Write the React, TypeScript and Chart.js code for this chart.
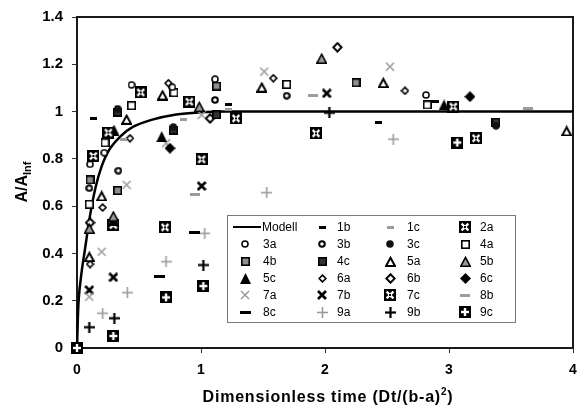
import React, { useEffect, useRef } from 'react';
import { Chart, registerables } from 'chart.js';

Chart.register(...registerables);

const FONT = "'Liberation Sans', Arial, Helvetica, sans-serif";
const BLACK = '#000000';
const GRAY = '#9c9c9c';

// ---------------- data ----------------
const xTicks = [0, 1, 2, 3, 4];
const yTicks = [0, 0.2, 0.4, 0.6, 0.8, 1, 1.2, 1.4];

const modelT = [0, 0.01, 0.03, 0.065, 0.105, 0.15, 0.2, 0.25, 0.35, 0.45, 0.6, 0.8, 1.0, 1.2, 4];
const modelY = [0, 0.17, 0.29, 0.42, 0.56, 0.68, 0.77, 0.83, 0.895, 0.935, 0.965, 0.988, 0.997, 1.0, 1.0];

const s1b = [[0.132, 0.971], [1.22, 1.032], [2.43, 0.953]];
const s1c = [[0.374, 0.88], [0.857, 0.967], [1.22, 1.01]];
const s2a = [[0.132, 0.812], [0.253, 0.911], [0.514, 1.081], [0.906, 1.042], [1.282, 0.971], [3.035, 1.021]];
const s3a = [[0.105, 0.777], [0.22, 0.826], [0.44, 1.113], [0.769, 1.103], [1.113, 1.137], [2.815, 1.07]];
const s3b = [[0.099, 0.676], [0.333, 0.75], [1.113, 1.049], [1.691, 1.067]];
const s3c = [[0.328, 1.012], [0.777, 0.935], [3.379, 0.94]];
const s4a = [[0.099, 0.608], [0.226, 0.868], [0.44, 1.025], [0.782, 1.08], [1.691, 1.115], [2.825, 1.028]];
const s4b = [[0.105, 0.711], [0.328, 0.666], [1.126, 1.108], [2.25, 1.122]];
const s4c = [[0.328, 0.998], [0.777, 0.922], [1.126, 0.986], [3.379, 0.955]];
const s5a = [[0.099, 0.386], [0.199, 0.643], [0.4, 0.967], [0.69, 1.07], [1.49, 1.103], [2.47, 1.122], [3.949, 0.918]];
const s5b = [[0.099, 0.506], [0.293, 0.558], [0.986, 1.021], [1.973, 1.225]];
const s5c = [[0.293, 0.54], [0.298, 0.922], [0.683, 0.894], [2.96, 1.028]];
const s6a = [[0.105, 0.355], [0.207, 0.594], [0.427, 0.887], [0.737, 1.12], [1.583, 1.141], [2.645, 1.088]];
const s6b = [[0.105, 0.53], [1.073, 0.971], [2.1, 1.272]];
const s6c = [[0.75, 0.845], [3.169, 1.063]];
const s7a = [[0.099, 0.217], [0.199, 0.407], [0.4, 0.69], [0.718, 0.866], [1.005, 0.986], [1.51, 1.169], [2.524, 1.19]];
const s7b = [[0.099, 0.245], [0.293, 0.299], [1.005, 0.685], [2.014, 1.077]];
const s7c = [[0.293, 0.52], [0.71, 0.51], [1.005, 0.798], [1.927, 0.908], [3.218, 0.887]];
const s8b = [[0.952, 0.651], [1.906, 1.066], [3.64, 1.014]];
const s8c = [[0.669, 0.302], [0.946, 0.488], [2.873, 1.042]];
const s9a = [[0.207, 0.147], [0.406, 0.234], [0.718, 0.365], [1.03, 0.485], [1.53, 0.657], [2.55, 0.883]];
const s9b = [[0.099, 0.088], [0.301, 0.126], [1.019, 0.351], [2.035, 0.995]];
const s9c = [[0, 0], [0.293, 0.051], [0.718, 0.214], [1.019, 0.262], [3.067, 0.869]];

const seriesLabels = ['1b', '1c', '2a', '3a', '3b', '3c', '4a', '4b', '4c', '5a', '5b', '5c', '6a', '6b', '6c', '7a', '7b', '7c', '8b', '8c', '9a', '9b', '9c'];
const seriesData = [s1b, s1c, s2a, s3a, s3b, s3c, s4a, s4b, s4c, s5a, s5b, s5c, s6a, s6b, s6c, s7a, s7b, s7c, s8b, s8c, s9a, s9b, s9c];

// ---------------- markers ----------------
function cv(w: number, h: number, draw: (g: CanvasRenderingContext2D) => void): HTMLCanvasElement {
  const c = document.createElement('canvas');
  c.width = w;
  c.height = h;
  const g = c.getContext('2d') as CanvasRenderingContext2D;
  draw(g);
  return c;
}
const dash = (w: number, h: number, col: string) => cv(w, h, (g) => { g.fillStyle = col; g.fillRect(0, 0, w, h); });
const circle = (d: number, lw: number, fill: string, stroke: string | null) =>
  cv(d, d, (g) => {
    g.beginPath();
    g.arc(d / 2, d / 2, d / 2 - (stroke ? lw / 2 : 0) - 0.2, 0, Math.PI * 2);
    g.fillStyle = fill;
    g.fill();
    if (stroke) { g.lineWidth = lw; g.strokeStyle = stroke; g.stroke(); }
  });
const square = (s: number, lw: number, fill: string) =>
  cv(s, s, (g) => {
    g.fillStyle = fill;
    g.fillRect(lw / 2, lw / 2, s - lw, s - lw);
    g.lineWidth = lw;
    g.strokeStyle = BLACK;
    g.strokeRect(lw / 2, lw / 2, s - lw, s - lw);
  });
const triangle = (s: number, lw: number, fill: string) =>
  cv(s, s, (g) => {
    g.beginPath();
    g.moveTo(s / 2, lw * 0.9);
    g.lineTo(s - lw / 2, s - lw / 2);
    g.lineTo(lw / 2, s - lw / 2);
    g.closePath();
    g.fillStyle = fill;
    g.fill();
    if (lw > 0) { g.lineWidth = lw; g.strokeStyle = BLACK; g.stroke(); }
  });
const diamond = (s: number, lw: number, fill: string) =>
  cv(s, s, (g) => {
    const m = s / 2;
    const r = m - (lw > 0 ? lw / 2 + 0.3 : 0);
    g.beginPath();
    g.moveTo(m, m - r);
    g.lineTo(m + r, m);
    g.lineTo(m, m + r);
    g.lineTo(m - r, m);
    g.closePath();
    g.fillStyle = fill;
    g.fill();
    if (lw > 0) { g.lineWidth = lw; g.strokeStyle = BLACK; g.stroke(); }
  });
const xmark = (s: number, lw: number, col: string) =>
  cv(s, s, (g) => {
    g.strokeStyle = col;
    g.lineWidth = lw;
    g.beginPath();
    g.moveTo(1, 1); g.lineTo(s - 1, s - 1);
    g.moveTo(s - 1, 1); g.lineTo(1, s - 1);
    g.stroke();
  });
const plus = (s: number, lw: number, col: string) =>
  cv(s, s, (g) => {
    g.fillStyle = col;
    g.fillRect(0, (s - lw) / 2, s, lw);
    g.fillRect((s - lw) / 2, 0, lw, s);
  });
const crossBox = (s: number) =>
  cv(s, s, (g) => {
    g.fillStyle = BLACK;
    g.fillRect(0, 0, s, s);
    g.strokeStyle = '#ffffff';
    g.lineWidth = 2.2;
    g.beginPath();
    g.moveTo(2.6, 2.6); g.lineTo(s - 2.6, s - 2.6);
    g.moveTo(s - 2.6, 2.6); g.lineTo(2.6, s - 2.6);
    g.stroke();
    g.fillStyle = BLACK;
    g.fillRect(s / 2 - 1, s / 2 - 1, 2, 2);
  });
const plusBox = (s: number) =>
  cv(s, s, (g) => {
    g.fillStyle = BLACK;
    g.fillRect(0, 0, s, s);
    g.fillStyle = '#ffffff';
    g.fillRect(2, s / 2 - 1.2, s - 4, 2.4);
    g.fillRect(s / 2 - 1.2, 2, 2.4, s - 4);
  });

function makeMarker(name: string): HTMLCanvasElement {
  switch (name) {
    case '1b': return dash(7, 3, BLACK);
    case '1c': return dash(7, 3, GRAY);
    case '2a': return crossBox(12);
    case '3a': return circle(8, 1.5, '#fff', BLACK);
    case '3b': return circle(8, 2, '#fff', BLACK);
    case '3c': return circle(8, 0, '#111', null);
    case '4a': return square(9, 1.6, '#fff');
    case '4b': return square(9, 1.6, '#8f8f8f');
    case '4c': return square(9, 1.6, '#333');
    case '5a': return triangle(11, 2, '#fff');
    case '5b': return triangle(11, 1.6, '#9a9a9a');
    case '5c': return triangle(11, 0, '#000');
    case '6a': return diamond(9, 1.6, '#fff');
    case '6b': return diamond(11, 2, '#fff');
    case '6c': return diamond(11, 0, '#000');
    case '7a': return xmark(10, 1.6, GRAY);
    case '7b': return xmark(10, 2.6, BLACK);
    case '7c': return crossBox(12);
    case '8b': return dash(10, 3, GRAY);
    case '8c': return dash(11, 3, BLACK);
    case '9a': return plus(11, 1.6, GRAY);
    case '9b': return plus(11, 2.2, BLACK);
    case '9c': return plusBox(12);
    default: return dash(6, 3, BLACK);
  }
}

// ---------------- plugins ----------------
const framePlugin = {
  id: 'frame',
  beforeDatasetsDraw(chart: any) {
    const { ctx, chartArea: a } = chart;
    ctx.save();
    ctx.strokeStyle = '#1a1a1a';
    ctx.lineWidth = 2;
    ctx.strokeRect(a.left, a.top, a.right - a.left, a.bottom - a.top);
    ctx.restore();
  },
};

type Part = { text: string; font: string; dy: number };
function drawParts(ctx: CanvasRenderingContext2D, parts: Part[], cx: number, baseY: number, spacing: number) {
  let total = 0;
  const widths = parts.map((p) => {
    ctx.font = p.font;
    (ctx as any).letterSpacing = spacing + 'px';
    const w = ctx.measureText(p.text).width;
    total += w;
    return w;
  });
  let x = cx - total / 2;
  parts.forEach((p, i) => {
    ctx.font = p.font;
    (ctx as any).letterSpacing = spacing + 'px';
    ctx.fillText(p.text, x, baseY + p.dy);
    x += widths[i];
  });
}

const titlesPlugin = {
  id: 'titles',
  afterDraw(chart: any) {
    const ctx: CanvasRenderingContext2D = chart.ctx;
    ctx.save();
    ctx.fillStyle = BLACK;
    ctx.textAlign = 'left';
    ctx.textBaseline = 'alphabetic';
    const xParts: Part[] = [
      { text: 'Dimensionless time (Dt/(b-a)', font: `bold 16px ${FONT}`, dy: 0 },
      { text: '2', font: `bold 10px ${FONT}`, dy: -7 },
      { text: ')', font: `bold 16px ${FONT}`, dy: 0 },
    ];
    drawParts(ctx, xParts, 328, 402, 0.8);
    ctx.translate(27, 182);
    ctx.rotate(-Math.PI / 2);
    const yParts: Part[] = [
      { text: 'A/A', font: `bold 16px ${FONT}`, dy: 0 },
      { text: 'Inf', font: `bold 11px ${FONT}`, dy: 4 },
    ];
    drawParts(ctx, yParts, 0, 0, 0);
    ctx.restore();
  },
};

function makeLegendPlugin(markers: Record<string, HTMLCanvasElement>) {
  return {
    id: 'gridLegend',
    afterDraw(chart: any) {
      const ctx: CanvasRenderingContext2D = chart.ctx;
      const L = 227, T = 215, W = 288, H = 107;
      ctx.save();
      ctx.fillStyle = '#ffffff';
      ctx.fillRect(L, T, W, H);
      ctx.strokeStyle = '#7a7a7a';
      ctx.lineWidth = 1;
      ctx.strokeRect(L + 0.5, T + 0.5, W, H);
      const colMarker = [245, 322, 390, 465];
      const colText = [263, 337, 407, 480];
      const names = ['Modell', ...seriesLabels];
      ctx.font = `12px ${FONT}`;
      ctx.textBaseline = 'middle';
      ctx.fillStyle = BLACK;
      names.forEach((n, i) => {
        const col = i % 4;
        const row = Math.floor(i / 4);
        const y = 227 + row * 17;
        if (n === 'Modell') {
          ctx.strokeStyle = BLACK;
          ctx.lineWidth = 2;
          ctx.beginPath();
          ctx.moveTo(233, y);
          ctx.lineTo(261, y);
          ctx.stroke();
          ctx.fillText('Modell', 262, y + 0.5);
        } else {
          const m = markers[n];
          ctx.drawImage(m, Math.round(colMarker[col] - m.width / 2), Math.round(y - m.height / 2));
          ctx.fillText(n, colText[col], y + 0.5);
        }
      });
      ctx.restore();
    },
  };
}

const fmt = (v: number) => String(Math.round(v * 10) / 10);

export default function App() {
  const ref = useRef<HTMLCanvasElement | null>(null);
  useEffect(() => {
    const canvas = ref.current;
    if (!canvas) return;
    const markers: Record<string, HTMLCanvasElement> = {};
    seriesLabels.forEach((n) => { markers[n] = makeMarker(n); });

    const datasets: any[] = [
      {
        type: 'line',
        label: 'Modell',
        data: modelT.map((t, i) => ({ x: t, y: modelY[i] })),
        borderColor: BLACK,
        borderWidth: 2.5,
        pointRadius: 0,
        fill: false,
        cubicInterpolationMode: 'monotone',
        order: 2,
        clip: false,
      },
      ...seriesLabels.map((n, i) => ({
        type: 'scatter',
        label: n,
        data: seriesData[i].map(([x, y]) => ({ x, y })),
        pointStyle: markers[n],
        pointRadius: 5,
        showLine: false,
        order: 1,
        clip: false,
      })),
    ];

    const chart = new Chart(canvas, {
      type: 'scatter',
      data: { datasets },
      options: {
        animation: false,
        responsive: false,
        devicePixelRatio: 1,
        layout: { padding: { top: 17, right: 8, left: 0, bottom: 0 } },
        plugins: { legend: { display: false }, tooltip: { enabled: false } },
        scales: {
          x: {
            type: 'linear',
            min: xTicks[0],
            max: xTicks[xTicks.length - 1],
            afterFit: (s: any) => { s.height = 66; s.paddingRight = 0; s.paddingLeft = 0; },
            afterBuildTicks: (s: any) => { s.ticks = xTicks.map((v) => ({ value: v })); },
            ticks: { color: BLACK, font: { family: FONT, size: 14, weight: 'bold' }, padding: 9, maxRotation: 0, callback: (v: any) => fmt(Number(v)) },
            grid: { display: true, drawOnChartArea: false, drawTicks: true, tickLength: 5, color: '#333', lineWidth: 1 },
            border: { display: false },
          },
          y: {
            type: 'linear',
            min: yTicks[0],
            max: yTicks[yTicks.length - 1],
            afterFit: (s: any) => { s.width = 77; s.paddingTop = 0; s.paddingBottom = 0; },
            afterBuildTicks: (s: any) => { s.ticks = yTicks.map((v) => ({ value: v })); },
            ticks: { color: BLACK, font: { family: FONT, size: 15, weight: 'bold' }, padding: 9, callback: (v: any) => fmt(Number(v)) },
            grid: { display: true, drawOnChartArea: false, drawTicks: true, tickLength: 5, color: '#333', lineWidth: 1 },
            border: { display: false },
          },
        },
      } as any,
      plugins: [framePlugin, titlesPlugin, makeLegendPlugin(markers)],
    });
    return () => chart.destroy();
  }, []);

  return (
    <div style={{ position: 'absolute', left: 0, top: 0, width: 581, height: 414, background: '#fff' }}>
      <canvas ref={ref} width={581} height={414} style={{ display: 'block', width: 581, height: 414 }} />
    </div>
  );
}
